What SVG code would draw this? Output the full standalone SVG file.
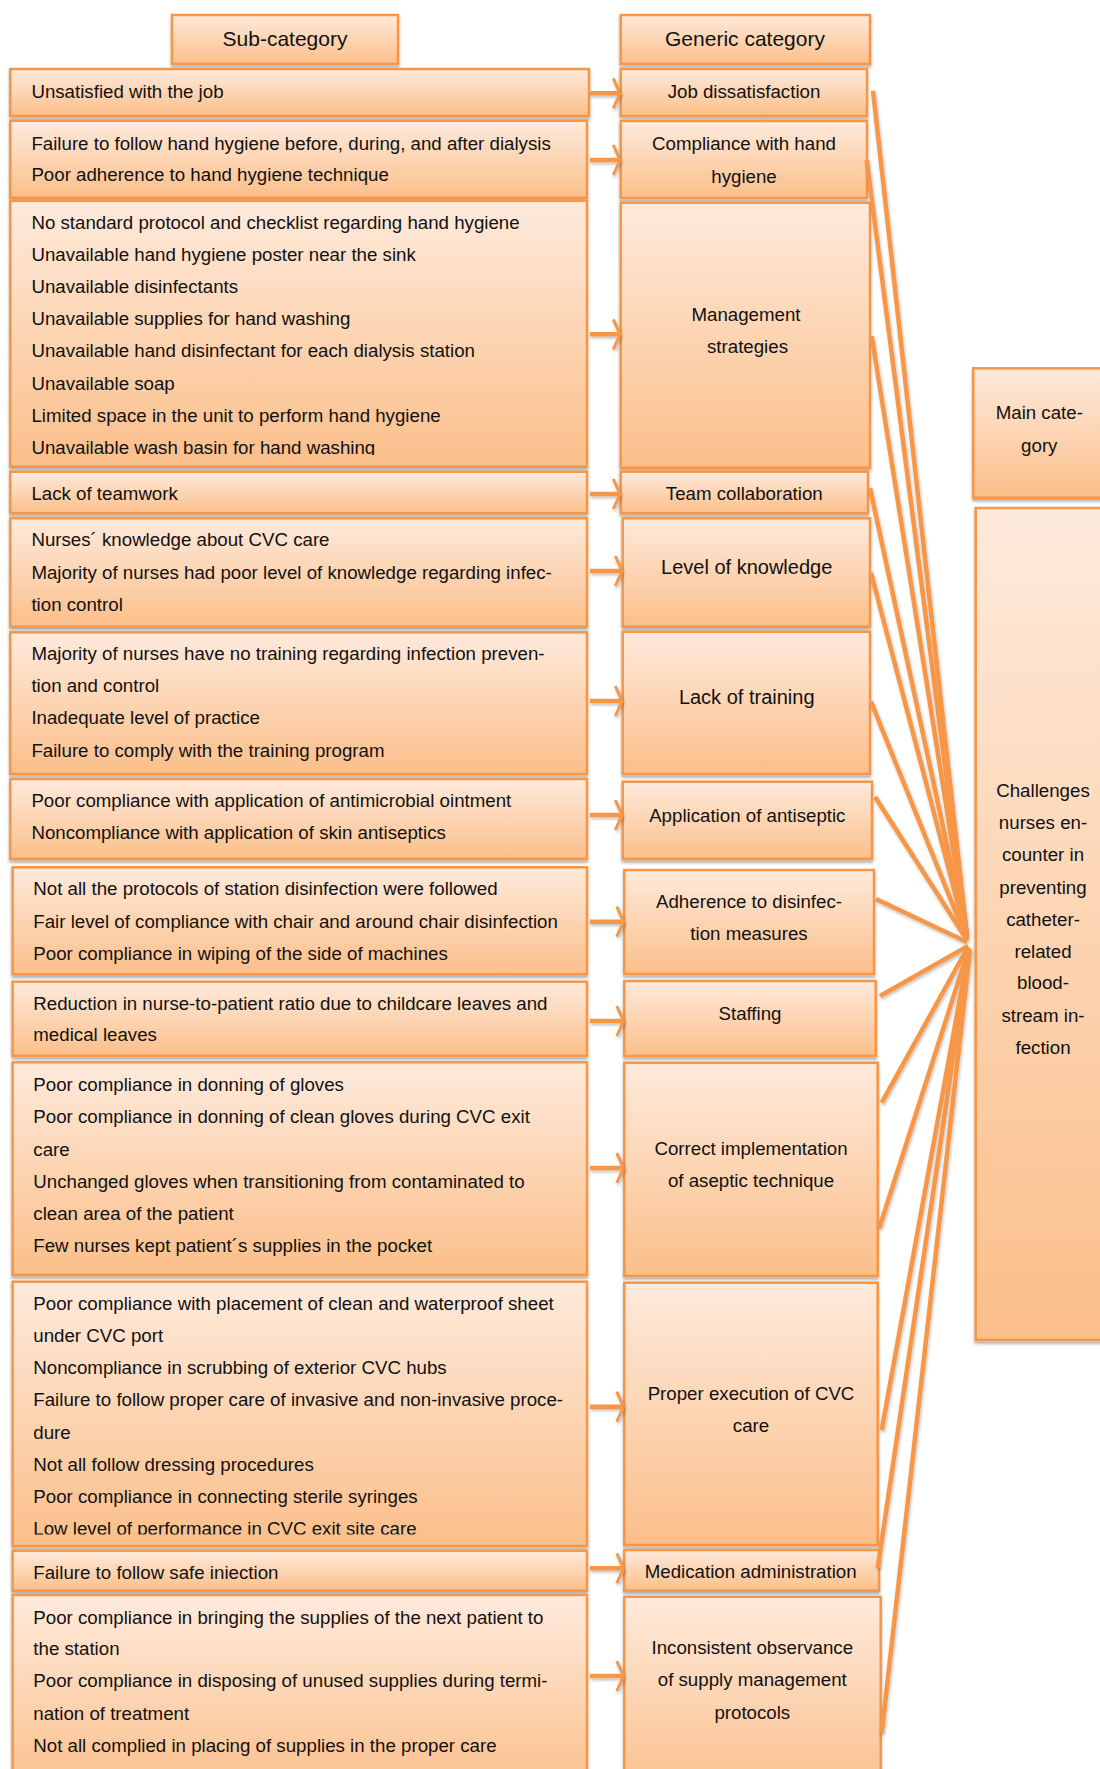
<svg xmlns="http://www.w3.org/2000/svg" width="1100" height="1769" viewBox="0 0 1100 1769">
<defs>
<linearGradient id="g" x1="0" y1="0" x2="0" y2="1">
<stop offset="0" stop-color="#FEEADC"/>
<stop offset="1" stop-color="#FBBF8A"/>
</linearGradient>
<filter id="sh" x="-5%" y="-5%" width="110%" height="115%">
<feDropShadow dx="0" dy="2.5" stdDeviation="1.6" flood-color="#000" flood-opacity="0.32"/>
</filter>
<filter id="lsh" x="-20%" y="-5%" width="140%" height="110%">
<feDropShadow dx="1" dy="2" stdDeviation="1.4" flood-color="#000" flood-opacity="0.25"/>
</filter>
<clipPath id="c3"><rect x="0" y="195" width="600" height="260"/></clipPath>
<clipPath id="c11"><rect x="0" y="1275" width="600" height="259.5"/></clipPath>
<clipPath id="c12"><rect x="0" y="1545" width="600" height="34"/></clipPath>
</defs>
<style>
.box{fill:url(#g);stroke:#F79646;stroke-width:2.5;filter:url(#sh)}
text{font-family:"Liberation Sans",Arial,sans-serif;font-size:18.7px;fill:#111}
.l{text-anchor:start}
.m{text-anchor:middle}
.h{font-size:21px}
.big{font-size:20px}
.shaft{stroke:#F79646;stroke-width:4.5;fill:none}
.head{stroke:#F79646;stroke-width:3;fill:none;stroke-linejoin:miter}
.ln{stroke:#F79646;stroke-width:4.5;fill:none;stroke-linecap:butt}
</style>

<g id="hdr-sub"><rect class="box" x="172" y="15" width="226" height="49"/><text class="m h" x="285" y="46">Sub-category</text></g>
<g id="hdr-gen"><rect class="box" x="620.7" y="15" width="249.3" height="49"/><text class="m h" x="745" y="46">Generic category</text></g>

<!-- Sub-category nodes -->
<g id="s1"><rect class="box" x="10.3" y="69" width="578.7" height="47"/><text class="l" x="31.4" y="97.5">Unsatisfied with the job</text></g>
<g id="s2"><rect class="box" x="10.3" y="120.7" width="576.7" height="77"/>
<text class="l" x="31.4" y="149.5">Failure to follow hand hygiene before, during, and after dialysis</text>
<text class="l" x="31.4" y="180.5">Poor adherence to hand hygiene technique</text></g>
<g id="s3"><rect class="box" x="10.3" y="200.8" width="576.7" height="265.9"/>
<g clip-path="url(#c3)">
<text class="l" x="31.4" y="228.5">No standard protocol and checklist regarding hand hygiene</text>
<text class="l" x="31.4" y="260.7">Unavailable hand hygiene poster near the sink</text>
<text class="l" x="31.4" y="292.9">Unavailable disinfectants</text>
<text class="l" x="31.4" y="325.1">Unavailable supplies for hand washing</text>
<text class="l" x="31.4" y="357.3">Unavailable hand disinfectant for each dialysis station</text>
<text class="l" x="31.4" y="389.5">Unavailable soap</text>
<text class="l" x="31.4" y="421.7">Limited space in the unit to perform hand hygiene</text>
<text class="l" x="31.4" y="453.9">Unavailable wash basin for hand washing</text>
</g></g>
<g id="s4"><rect class="box" x="10.3" y="471.7" width="576.7" height="41.6"/><text class="l" x="31.4" y="500">Lack of teamwork</text></g>
<g id="s5"><rect class="box" x="10.3" y="518.3" width="576.7" height="108.4"/>
<text class="l" x="31.4" y="546">Nurses´ knowledge about CVC care</text>
<text class="l" x="31.4" y="578.5">Majority of nurses had poor level of knowledge regarding infec-</text>
<text class="l" x="31.4" y="611">tion control</text></g>
<g id="s6"><rect class="box" x="10.3" y="632.3" width="576.7" height="141.7"/>
<text class="l" x="31.4" y="660">Majority of nurses have no training regarding infection preven-</text>
<text class="l" x="31.4" y="692">tion and control</text>
<text class="l" x="31.4" y="724.3">Inadequate level of practice</text>
<text class="l" x="31.4" y="756.5">Failure to comply with the training program</text></g>
<g id="s7"><rect class="box" x="10.3" y="779" width="576.7" height="80"/>
<text class="l" x="31.4" y="807">Poor compliance with application of antimicrobial ointment</text>
<text class="l" x="31.4" y="838.5">Noncompliance with application of skin antiseptics</text></g>
<g id="s8"><rect class="box" x="12.6" y="867.3" width="574.4" height="107"/>
<text class="l" x="33.3" y="895">Not all the protocols of station disinfection were followed</text>
<text class="l" x="33.3" y="927.5">Fair level of compliance with chair and around chair disinfection</text>
<text class="l" x="33.3" y="960">Poor compliance in wiping of the side of machines</text></g>
<g id="s9"><rect class="box" x="12.6" y="981.7" width="574.4" height="74.3"/>
<text class="l" x="33.3" y="1009.5">Reduction in nurse-to-patient ratio due to childcare leaves and</text>
<text class="l" x="33.3" y="1041">medical leaves</text></g>
<g id="s10"><rect class="box" x="12.6" y="1062.3" width="574.4" height="212.7"/>
<text class="l" x="33.3" y="1091">Poor compliance in donning of gloves</text>
<text class="l" x="33.3" y="1123.3">Poor compliance in donning of clean gloves during CVC exit</text>
<text class="l" x="33.3" y="1155.5">care</text>
<text class="l" x="33.3" y="1187.7">Unchanged gloves when transitioning from contaminated to</text>
<text class="l" x="33.3" y="1220">clean area of the patient</text>
<text class="l" x="33.3" y="1252">Few nurses kept patient´s supplies in the pocket</text></g>
<g id="s11"><rect class="box" x="12.6" y="1281.7" width="574.4" height="264.3"/>
<g clip-path="url(#c11)">
<text class="l" x="33.3" y="1309.5">Poor compliance with placement of clean and waterproof sheet</text>
<text class="l" x="33.3" y="1341.7">under CVC port</text>
<text class="l" x="33.3" y="1374">Noncompliance in scrubbing of exterior CVC hubs</text>
<text class="l" x="33.3" y="1406.2">Failure to follow proper care of invasive and non-invasive proce-</text>
<text class="l" x="33.3" y="1438.5">dure</text>
<text class="l" x="33.3" y="1470.5">Not all follow dressing procedures</text>
<text class="l" x="33.3" y="1503">Poor compliance in connecting sterile syringes</text>
<text class="l" x="33.3" y="1535">Low level of performance in CVC exit site care</text>
</g></g>
<g id="s12"><rect class="box" x="12.6" y="1550.7" width="574.4" height="40"/>
<g clip-path="url(#c12)"><text class="l" x="33.3" y="1578.7">Failure to follow safe injection</text></g></g>
<g id="s13"><rect class="box" x="12.6" y="1595" width="574.4" height="200"/>
<text class="l" x="33.3" y="1623.5">Poor compliance in bringing the supplies of the next patient to</text>
<text class="l" x="33.3" y="1655">the station</text>
<text class="l" x="33.3" y="1687">Poor compliance in disposing of unused supplies during termi-</text>
<text class="l" x="33.3" y="1719.5">nation of treatment</text>
<text class="l" x="33.3" y="1752">Not all complied in placing of supplies in the proper care</text></g>

<!-- Generic category nodes -->
<g id="g1"><rect class="box" x="620.7" y="69" width="246.3" height="47"/><text class="m" x="744" y="97.5">Job dissatisfaction</text></g>
<g id="g2"><rect class="box" x="620.7" y="121" width="246.3" height="77"/>
<text class="m" x="744" y="150">Compliance with hand</text><text class="m" x="744" y="182.5">hygiene</text></g>
<g id="g3"><rect class="box" x="620.7" y="202.7" width="249.3" height="265"/>
<text class="m" x="746" y="321">Management</text><text class="m" x="747.5" y="352.5">strategies</text></g>
<g id="g4"><rect class="box" x="620.7" y="471.7" width="247.3" height="41.6"/><text class="m" x="744.3" y="500">Team collaboration</text></g>
<g id="g5"><rect class="box" x="622.7" y="518.3" width="247.3" height="108.4"/><text class="m big" x="746.7" y="574">Level of knowledge</text></g>
<g id="g6"><rect class="box" x="622.7" y="631.7" width="247.3" height="142.3"/><text class="m big" x="746.7" y="704">Lack of training</text></g>
<g id="g7"><rect class="box" x="622.7" y="781.7" width="249.3" height="77.3"/><text class="m" x="747.3" y="821.7">Application of antiseptic</text></g>
<g id="g8"><rect class="box" x="624.3" y="870" width="249.7" height="104"/>
<text class="m" x="749" y="907.7">Adherence to disinfec-</text><text class="m" x="749" y="940">tion measures</text></g>
<g id="g9"><rect class="box" x="624.3" y="981" width="251.4" height="75"/><text class="m" x="750" y="1020.3">Staffing</text></g>
<g id="g10"><rect class="box" x="624.3" y="1062.7" width="253.4" height="213.3"/>
<text class="m" x="751" y="1155">Correct implementation</text><text class="m" x="751" y="1187">of aseptic technique</text></g>
<g id="g11"><rect class="box" x="624.3" y="1282.7" width="253.4" height="262.3"/>
<text class="m" x="751" y="1400">Proper execution of CVC</text><text class="m" x="751" y="1432">care</text></g>
<g id="g12"><rect class="box" x="624.3" y="1550" width="254.7" height="40.7"/><text class="m" x="750.7" y="1577.7">Medication administration</text></g>
<g id="g13"><rect class="box" x="624.3" y="1596.7" width="256.4" height="200"/>
<text class="m" x="752.3" y="1653.7">Inconsistent observance</text><text class="m" x="752.3" y="1686">of supply management</text><text class="m" x="752.3" y="1718.7">protocols</text></g>

<!-- Main category nodes -->
<g id="main-hdr"><rect class="box" x="973.3" y="368.3" width="140" height="129.4"/>
<text class="m" x="1039.3" y="418.7">Main cate-</text><text class="m" x="1039.3" y="452">gory</text></g>
<g id="main"><rect class="box" x="975.7" y="508" width="140" height="832"/>
<text class="m" x="1043" y="797">Challenges</text>
<text class="m" x="1043" y="828.7">nurses en-</text>
<text class="m" x="1043" y="861">counter in</text>
<text class="m" x="1043" y="893.7">preventing</text>
<text class="m" x="1043" y="926">catheter-</text>
<text class="m" x="1043" y="957.7">related</text>
<text class="m" x="1043" y="989.3">blood-</text>
<text class="m" x="1043" y="1022">stream in-</text>
<text class="m" x="1043" y="1054">fection</text></g>

<!-- Connectors -->
<g id="connectors" filter="url(#lsh)">
<path class="shaft" d="M590 93.3H618M590 160H618M590 334.3H618M590 494H618M590 571H620M590 701H620M590 815H620M590 921.7H621.5M590 1021H621.5M590 1168H621.5M590 1406.7H621.5M590 1568.3H621.5M590 1676H621.5"/>
<path class="head" d="M613.3 78.3L620 93.3L613.3 108.3M613.3 145L620 160L613.3 175M613.3 319.3L620 334.3L613.3 349.3M613.3 479L620 494L613.3 509M615.3 556L622 571L615.3 586M615.3 686L622 701L615.3 716M615.3 800L622 815L615.3 830M616.8 906.7L623.5 921.7L616.8 936.7M616.8 1006L623.5 1021L616.8 1036M616.8 1153L623.5 1168L616.8 1183M616.8 1391.7L623.5 1406.7L616.8 1421.7M616.8 1553.3L623.5 1568.3L616.8 1583.3M616.8 1661L623.5 1676L616.8 1691"/>
<line class="ln" x1="873" y1="90.7" x2="967" y2="936"/>
<line class="ln" x1="866.7" y1="160" x2="967" y2="936"/>
<line class="ln" x1="871.7" y1="336" x2="967" y2="937"/>
<line class="ln" x1="870" y1="488" x2="967" y2="938"/>
<line class="ln" x1="871" y1="572.7" x2="967" y2="939"/>
<line class="ln" x1="871" y1="701.7" x2="967" y2="940"/>
<line class="ln" x1="875" y1="796.7" x2="967" y2="940"/>
<line class="ln" x1="876" y1="899" x2="967" y2="942"/>
<line class="ln" x1="880" y1="996" x2="968" y2="946"/>
<line class="ln" x1="881.7" y1="1102.7" x2="968" y2="947"/>
<line class="ln" x1="879.3" y1="1228" x2="969" y2="948"/>
<line class="ln" x1="881.7" y1="1430" x2="969" y2="948"/>
<line class="ln" x1="877.7" y1="1568" x2="969" y2="949"/>
<line class="ln" x1="881.7" y1="1733" x2="970" y2="950"/>
</g>
</svg>
